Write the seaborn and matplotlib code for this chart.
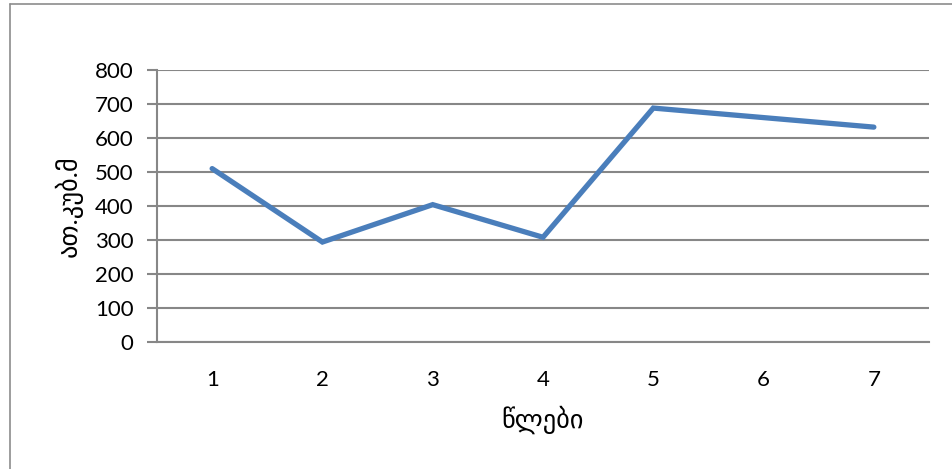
import matplotlib
matplotlib.use("Agg")
import matplotlib.pyplot as plt
import seaborn as sns
import pandas as pd
from matplotlib.lines import Line2D

years = [1, 2, 3, 4, 5, 6, 7]
values = [510, 294, 404, 308, 688, 660, 632]
y_ticks = [0, 100, 200, 300, 400, 500, 600, 700, 800]
x_label = "წლები"
y_label = "ათ.კუბ.მ"

sns.set_theme(style="white")
plt.rcParams['font.family'] = ['Lato', 'DejaVu Sans']

df = pd.DataFrame({"x": [y - 1 for y in years], "y": values})

fig = plt.figure(figsize=(9.52, 4.69), dpi=100)
ax = fig.add_axes([157 / 952, 1 - 342 / 469, (929 - 157) / 952, (342 - 70) / 469])

sns.lineplot(data=df, x="x", y="y", ax=ax, color="#4a7ebb", linewidth=3.8,
             solid_capstyle="round", solid_joinstyle="miter")

ax.set_xlim(-0.5, len(years) - 0.5)
ax.set_ylim(0, 800)
ax.set_yticks(y_ticks)
ax.set_yticklabels([str(t) for t in y_ticks], fontsize=16, color="black")
ax.set_xticks(range(len(years)))
ax.set_xticklabels([str(y) for y in years], fontsize=16, color="black")
ax.yaxis.grid(True, color="#878787", linewidth=1.5)
ax.xaxis.grid(False)
ax.set_axisbelow(True)
for s in ["top", "right"]:
    ax.spines[s].set_visible(False)
for s in ["left", "bottom"]:
    ax.spines[s].set_color("#878787")
    ax.spines[s].set_linewidth(1.5)
ax.tick_params(axis="y", which="major", left=True, length=7, width=1.5, color="#878787", pad=10)
ax.tick_params(axis="x", which="major", bottom=False, pad=14)

ax.set_xlabel(x_label, fontsize=19, color="black")
ax.set_ylabel(y_label, fontsize=19, color="black")
ax.xaxis.set_label_coords(0.5, -0.235)
ax.yaxis.set_label_coords(-0.096, 0.5)

# outer chart border (left and top visible)
fig.add_artist(Line2D([10 / 952, 10 / 952], [0, 1 - 4 / 469], transform=fig.transFigure,
                      color="#8c8c8c", linewidth=1.2))
fig.add_artist(Line2D([10 / 952, 1], [1 - 4 / 469, 1 - 4 / 469], transform=fig.transFigure,
                      color="#8c8c8c", linewidth=1.2))

fig.savefig("out.png", dpi=100)
